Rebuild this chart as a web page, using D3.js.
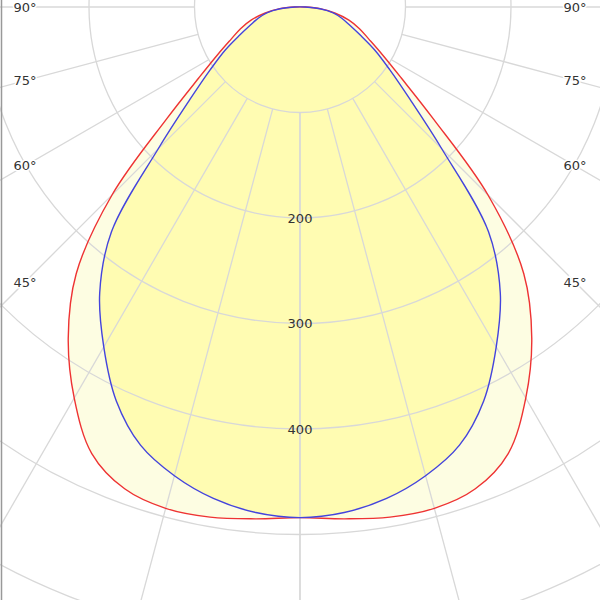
<!DOCTYPE html>
<html><head><meta charset="utf-8">
<script src="https://cdn.jsdelivr.net/npm/d3@7"></script>
<style>body{margin:0;background:#fff}</style></head>
<body><svg id="c" width="600" height="600"></svg>
<script>
const angles = [0,5,10,15,20,25,30,35,40,45,50,55,60,65,70,75,80,85,90];
const redC0 = [484,487,491,492,486,467,428,383,330,252,165,117,90,72,60,48,34,20,5];
const blueC90 = [484,481,473,460,442,412,372,331,278,190,136,104,82,63,50,41,32,19,5];
const ringValues = [100,200,300,400,500,600,700];
const ringLabels = [200,300,400];
const spokeAngles = [0,15,30,45,60,75,90];
const sideLabels = [90,75,60,45];

const svg = d3.select("#c");
const cx = 300, cy = 7;
const r = d3.scaleLinear().domain([0,100]).range([0,105.5]);
const g = svg.append("g").attr("transform",`translate(${cx},${cy})`);
const rad = d => d*Math.PI/180;

function pts(vals){
  const left = angles.map((a,i)=>[Math.PI+rad(a), r(vals[i])]).reverse();
  const right = angles.slice(1).map((a,i)=>[Math.PI-rad(a), r(vals[i+1])]);
  return left.concat(right);
}
const line = d3.lineRadial().curve(d3.curveCatmullRomClosed);

g.append("path").attr("d",line(pts(redC0))).attr("fill","#fdfde2");
g.append("path").attr("d",line(pts(blueC90))).attr("fill","#fffcb2");

ringValues.forEach(v=>{
  g.append("circle").attr("r",r(v)).attr("fill","none").attr("stroke","#d8d8d8").attr("stroke-width",1.3);
});
spokeAngles.forEach(a=>{
  [1,-1].forEach(s=>{
    const t = rad(a)*s;
    g.append("line")
      .attr("x1",Math.sin(t)*r(100)).attr("y1",Math.cos(t)*r(100))
      .attr("x2",Math.sin(t)*900).attr("y2",Math.cos(t)*900)
      .attr("stroke","#d8d8d8").attr("stroke-width",1.3);
  });
});

g.append("path").attr("d",line(pts(redC0))).attr("fill","none").attr("stroke","#ee3333").attr("stroke-width",1.4);
g.append("path").attr("d",line(pts(blueC90))).attr("fill","none").attr("stroke","#4444dd").attr("stroke-width",1.4);

ringLabels.forEach(v=>{
  g.append("text").attr("x",0).attr("y",r(v)).attr("dy","0.35em").attr("text-anchor","middle")
   .attr("font-family","DejaVu Sans").attr("font-size",13).attr("fill","#333").text(v);
});
sideLabels.forEach(a=>{
  const yy = 275/Math.tan(rad(a));
  [25,575].forEach(x=>{
    svg.append("text").attr("x",x).attr("y",cy+(a===90?0:yy)).attr("dy","0.35em").attr("text-anchor","middle")
     .attr("font-family","DejaVu Sans").attr("font-size",13).attr("fill","#333")
     .style("paint-order","stroke").attr("stroke","#fff").attr("stroke-width",3).text(a+"°");
  });
});
svg.append("line").attr("x1",1.5).attr("y1",0).attr("x2",1.5).attr("y2",600).attr("stroke","#999").attr("stroke-width",1.5);
</script></body></html>
